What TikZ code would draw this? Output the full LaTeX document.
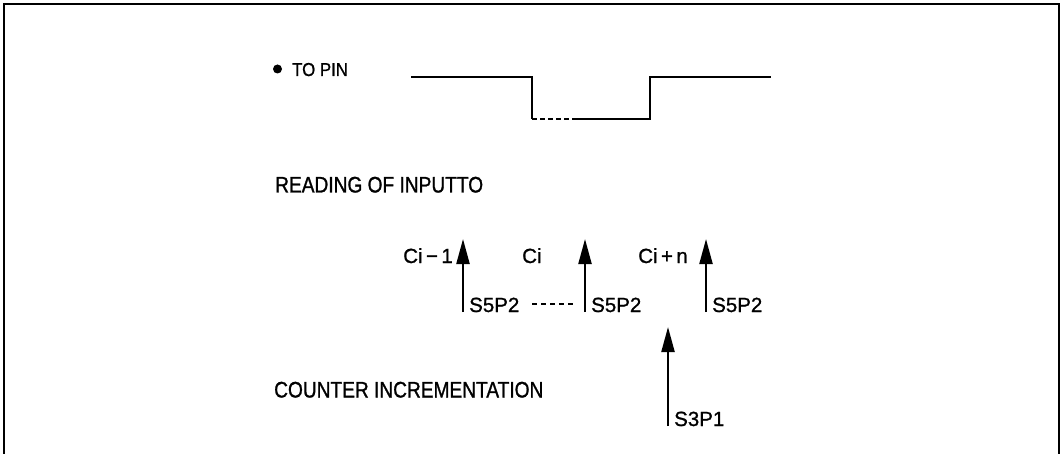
\documentclass[tikz,border=0pt]{standalone}
\usepackage{fontspec}
\setmainfont{Liberation Sans}[FakeBold=0.9]
\newfontfamily\headfont{Liberation Sans}[FakeStretch=0.85,FakeBold=1.1]
\newfontfamily\pinfont{Liberation Sans}[FakeStretch=0.9,FakeBold=1.0]
\newfontfamily\lblfont{Liberation Sans}[FakeBold=1.0]
\usetikzlibrary{arrows.meta}
\begin{document}
\begin{tikzpicture}[x=1pt,y=-1pt,
  frameline/.style={line width=2pt},
  wave/.style={line width=2pt,line join=miter},
  sig/.style={line width=2.2pt,-{Triangle[length=25pt,width=13pt]}},
  headtxt/.style={inner sep=0pt,anchor=base west,font=\headfont\fontsize{22.5}{27}\selectfont},
  pintxt/.style={inner sep=0pt,anchor=base west,font=\pinfont\fontsize{18.7}{22}\selectfont},
  lbl/.style={inner sep=0pt,font=\lblfont\fontsize{20.5}{24}\selectfont},
]
\useasboundingbox (0,0) rectangle (1064,454);
% frame (open at the bottom)
\coordinate (fbl) at (4,454);
\coordinate (ftl) at (4,4);
\coordinate (ftr) at (1059,4);
\coordinate (fbr) at (1059,454);
\draw[frameline] (fbl) -- (ftl) -- (ftr) -- (fbr);

% T0 pin label
\node[circle,fill,inner sep=0pt,minimum size=9pt] (bul) at (277.5,69) {};
\node[pintxt] (topin) at (292,76) {TO PIN};

% waveform
\coordinate (w0) at (411,77.5);
\coordinate (w1) at (532,77.5);
\coordinate (w2) at (532,119);
\coordinate (w3) at (575,119);
\coordinate (w4) at (650,119);
\coordinate (w5) at (650,77.5);
\coordinate (w6) at (771,77.5);
\draw[wave] (w0) -- (w1) -- (w2);
\draw[wave,dash pattern=on 5pt off 3pt] (w2) -- (w3);
\draw[wave] (w3) -- (w4) -- (w5) -- (w6);

% section headings
\node[headtxt] (reading) at (275,192.5) {READING OF INPUTTO};
\node[headtxt] (counter) at (274,397.5) {COUNTER INCREMENTATION};

% reading arrows
\coordinate (a1b) at (463,312);
\coordinate (a1t) at (463,239);
\coordinate (a2b) at (585,312);
\coordinate (a2t) at (585,239);
\coordinate (a3b) at (706,312);
\coordinate (a3t) at (706,239);
\draw[sig] (a1b) -- (a1t);
\draw[sig] (a2b) -- (a2t);
\draw[sig] (a3b) -- (a3t);

\node[lbl,anchor=base east] (cim1) at (453,263) {Ci\,−\,1};
\node[lbl,anchor=base west] (ci) at (522,263) {Ci};
\node[lbl,anchor=base east] (cipn) at (688,263) {Ci\,+\,n};

\node[lbl,anchor=base west] (s1) at (469,312) {S5P2};
\node[lbl,anchor=base west] (s2) at (591,312) {S5P2};
\node[lbl,anchor=base west] (s3) at (712,312) {S5P2};

\coordinate (dl) at (532,304);
\coordinate (dr) at (574,304);
\draw[line width=1.6pt,dash pattern=on 5pt off 4pt] (dl) -- (dr);

% counter arrow
\coordinate (a4b) at (668,426);
\coordinate (a4t) at (668,327);
\draw[sig] (a4b) -- (a4t);
\node[lbl,anchor=base west] (s4) at (674,426) {S3P1};
\end{tikzpicture}
\end{document}
